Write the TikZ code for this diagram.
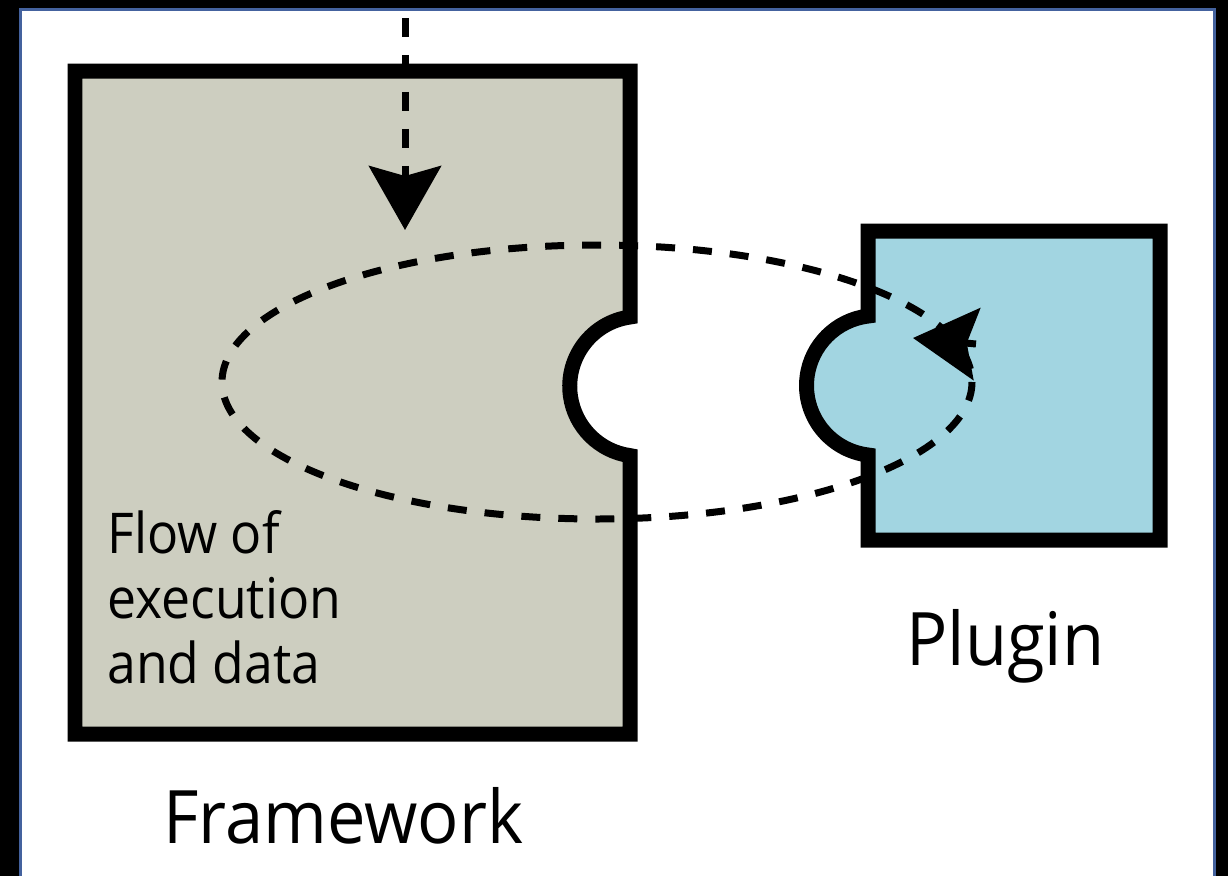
\documentclass[tikz,border=0pt]{standalone}
\usepackage{fontspec}
\setmainfont{Open Sans}
\usetikzlibrary{arrows.meta}
\definecolor{grisfw}{RGB}{205,206,192}
\definecolor{azulplug}{RGB}{162,213,225}
\definecolor{azulborde}{RGB}{68,98,158}
\tikzset{>={Stealth[length=1.28cm,width=1.44cm,inset=0.2cm]},
	pieza/.style={line width=0.3cm, draw=black, line join=miter},
	flujo/.style={line width=0.14cm, dash pattern=on 0.38cm off 0.36cm},
	rotulo/.style={font=\fontsize{42}{50}\selectfont, inner sep=0pt, xscale=0.93, transform shape},
	notita/.style={font=\fontsize{32}{37}\selectfont, inner sep=0pt, align=left, xscale=0.92, transform shape}}

\begin{document}
\begin{tikzpicture}[x=0.02cm,y=-0.02cm]
	\useasboundingbox (0,0) rectangle (1228,876);
	% marco
	\fill[black] (0,0) rectangle (1228,876);
	\draw[fill=white, draw=azulborde, line width=0.06cm] (20.5,9) rectangle (1214.5,890);

	% framework, con la muesca
	\draw[pieza, fill=grisfw] (75,71) -- (630,71) -- (630,317)
		arc[start angle=262, end angle=98, radius=70] -- (630,734) -- (75,734) -- cycle;
	% plugin, con la pestana
	\draw[pieza, fill=azulplug] (868,231) -- (1160,231) -- (1160,540) -- (868,540) -- (868,455)
		arc[start angle=97, end angle=263, radius=70] -- cycle;

	% flujo de ejecucion
	\draw[flujo] (597,382) ellipse [x radius=375, y radius=137];
	\coordinate (entrada) at (405,18);
	\coordinate (entradafin) at (405,230);
	\draw[flujo,->] (entrada) -- (entradafin);
	\coordinate (vuelta) at (976,344);
	\coordinate (vueltafin) at (913,338);
	\draw[line width=0.14cm,->] (vuelta) -- (vueltafin);

	\node[notita, anchor=north west] (flujotxt) at (107,510) {Flow of\\execution\\and data};
	\node[rotulo, anchor=base west] (fwtxt) at (163,843) {Framework};
	\node[rotulo, anchor=base west] (plugtxt) at (906,665) {Plugin};
\end{tikzpicture}
\end{document}
